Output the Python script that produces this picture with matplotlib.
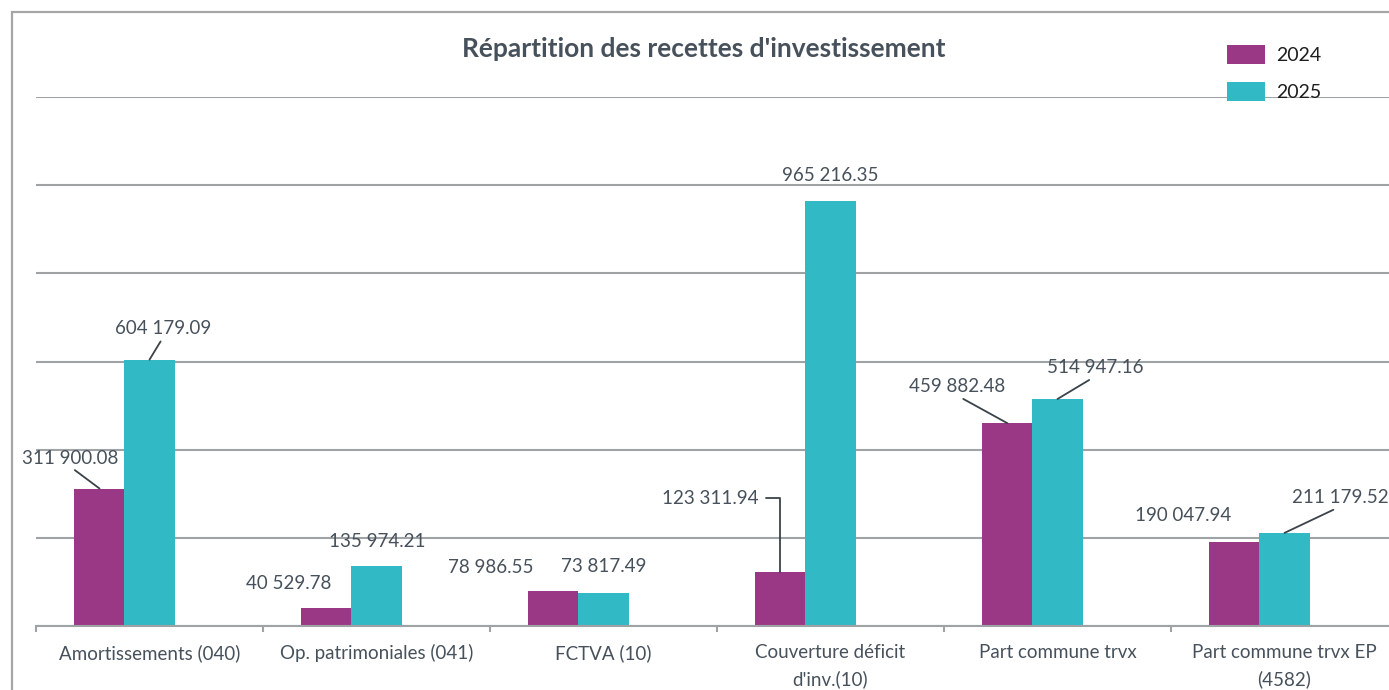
import matplotlib
matplotlib.use('Agg')
import matplotlib.pyplot as plt
from matplotlib.patches import Rectangle
import numpy as np

# ---- data ----
categories = ["Amortissements (040)", "Op. patrimoniales (041)", "FCTVA (10)",
              "Couverture déficit\nd'inv.(10)", "Part commune trvx",
              "Part commune trvx EP\n(4582)"]
series_names = ["2024", "2025"]
values_2024 = [311900.08, 40529.78, 78986.55, 123311.94, 459882.48, 190047.94]
values_2025 = [604179.09, 135974.21, 73817.49, 965216.35, 514947.16, 211179.52]
title = "Répartition des recettes d'investissement"

# ---- style ----
plt.rcParams['font.family'] = ['Lato', 'DejaVu Sans']
C24 = '#9B3885'
C25 = '#31B9C6'
TXT = '#47515B'
GRID = '#A0A3A6'
DPI = 100
W, H = 1389, 690

fig = plt.figure(figsize=(W / DPI, H / DPI), dpi=DPI)
ax = fig.add_axes([36 / W, (H - 626) / H, 1362 / W, 529 / H])

x = np.arange(len(categories))
bw = 0.2203
b24 = ax.bar(x - bw, values_2024, bw, color=C24, label=series_names[0], zorder=3)
b25 = ax.bar(x, values_2025, bw, color=C25, label=series_names[1], zorder=3)

ax.set_xlim(-0.5, len(categories) - 0.5)
ax.set_ylim(0, 1200000)
ax.set_yticks(np.arange(0, 1200001, 200000))
ax.yaxis.grid(True, color=GRID, lw=1.5, zorder=0)
for s in ['left', 'right', 'top']:
    ax.spines[s].set_visible(False)
ax.spines['bottom'].set_color(GRID)
ax.spines['bottom'].set_linewidth(1.5)
ax.spines['bottom'].set_zorder(4)
ax.tick_params(axis='y', length=0, labelleft=False)
ax.set_xticks(x)
ax.set_xticklabels(categories, fontsize=13.5, color=TXT, linespacing=1.6)
ax.tick_params(axis='x', which='major', length=0, pad=13)
ax.set_xticks(np.arange(-0.5, len(categories), 1.0), minor=True)
ax.tick_params(axis='x', which='minor', length=4, width=1.5, color=GRID)
ax.set_axisbelow(True)


def fmt(v):
    return f"{v:,.2f}".replace(",", " ")


# label offsets (pixels) from top-centre of each bar, and leader-line style
off24 = [(-29.5, 30.5), (-37.5, 25), (-62.5, 24), (-70, 73.6), (-50.5, 36.3), (-51, 27)]
off25 = [(13.5, 30.7), (0.5, 25), (0, 26.5), (0, 25.5), (37.5, 31), (56, 35)]
lead24 = ['line', None, None, 'angle', 'line', None]
lead25 = ['line', None, None, None, 'line', 'line']

for xs, vals, offs, leads in [(x - bw, values_2024, off24, lead24),
                              (x, values_2025, off25, lead25)]:
    for xi, v, (dx, dy), ld in zip(xs, vals, offs, leads):
        kw = {}
        if ld == 'line':
            kw['arrowprops'] = dict(arrowstyle='-', color='#3A424A', lw=1.3,
                                    relpos=(0.5, 0.0), shrinkA=1, shrinkB=0)
        elif ld == 'angle':
            kw['arrowprops'] = dict(arrowstyle='-', color='#3A424A', lw=1.3,
                                    relpos=(1.0, 0.5), shrinkA=3, shrinkB=0,
                                    connectionstyle='angle,angleA=0,angleB=90,rad=0')
        ax.annotate(fmt(v), xy=(xi, v), xytext=(dx, dy), textcoords='offset pixels',
                    ha='center', va='center', fontsize=13.5, color=TXT,
                    annotation_clip=False, **kw)

# title
fig.text(704 / W, 1 - 49 / H, title, ha='center', va='center',
         fontsize=19, fontweight='bold', color=TXT)

# legend
leg = fig.legend(handles=[b24, b25], labels=series_names, loc='upper left',
                 bbox_to_anchor=(1227 / W, 1 - 45 / H), frameon=False,
                 fontsize=14, handlelength=1.95, handleheight=1.1,
                 handletextpad=0.6, labelspacing=0.93, borderpad=0,
                 borderaxespad=0)
for t in leg.get_texts():
    t.set_color('#1E1E1E')

# outer chart border
fig.patches.append(Rectangle((12 / W, -0.1), 1.2, (H - 12) / H + 0.1,
                             transform=fig.transFigure, fill=False,
                             edgecolor='#A6A6A6', lw=1.6, zorder=10))

fig.savefig('out.png', dpi=DPI)
